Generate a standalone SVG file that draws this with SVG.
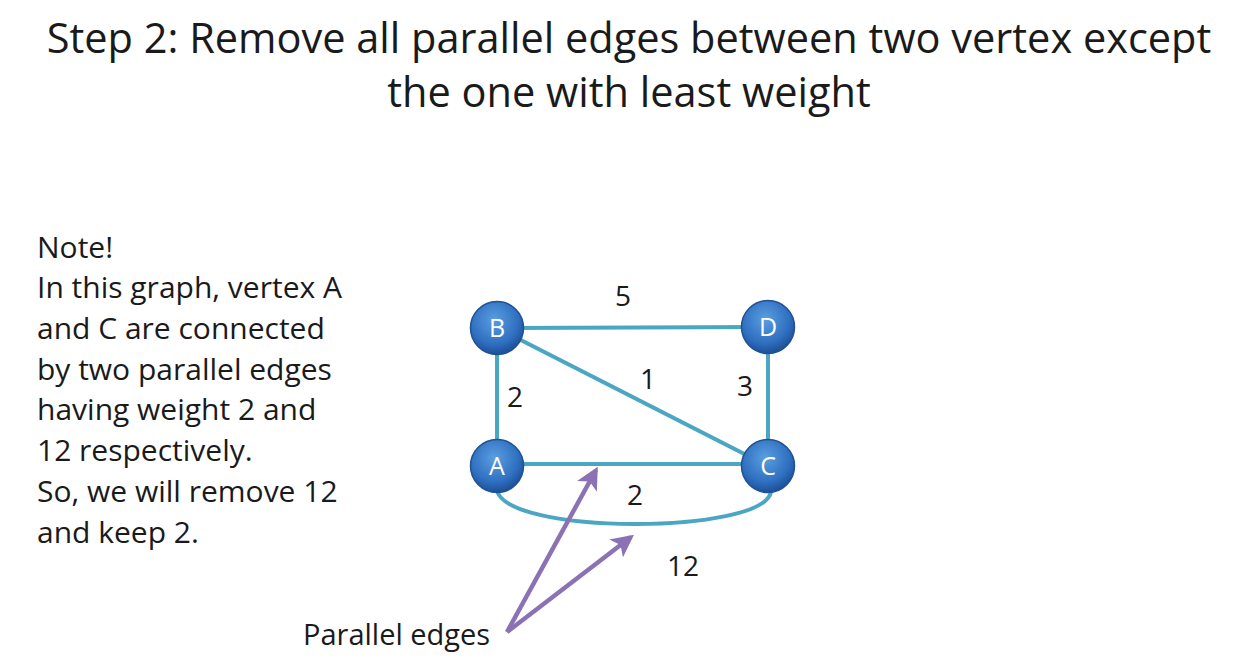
<svg xmlns="http://www.w3.org/2000/svg" width="1256" height="670" viewBox="0 0 1256 670">
<defs>
<radialGradient id="nodeGrad" cx="45%" cy="35%" r="65%">
<stop offset="0" stop-color="#5a9ee0"/>
<stop offset="0.7" stop-color="#2f6fc0"/>
<stop offset="1" stop-color="#1d4f96"/>
</radialGradient>
<marker id="arr" viewBox="0 0 12 12" refX="10" refY="6" markerWidth="5" markerHeight="5" orient="auto" markerUnits="strokeWidth">
<path d="M0,0 L12,6 L0,12 L3,6 Z" fill="#8a72b4"/>
</marker>
<style>
.t{font-family:"Open Sans","Liberation Sans",sans-serif;fill:#1a1a1a}
.title{font-size:41.5px}
.note{font-size:30px}
.w{font-size:28px;text-anchor:middle}
.edge{fill:none;stroke:#4aa6c2;stroke-width:4}
.node circle{fill:url(#nodeGrad);stroke:#1e5294;stroke-width:1.5}
.node text{font-family:"Open Sans","Liberation Sans",sans-serif;font-size:25px;fill:#ffffff;text-anchor:middle}
.ptr{stroke:#8a72b4;stroke-width:4.5;fill:none}
</style>
</defs>
<rect width="1256" height="670" fill="#ffffff"/>
<g id="title">
<text class="t title" x="629" y="53" text-anchor="middle">Step 2: Remove all parallel edges between two vertex except</text>
<text class="t title" x="629" y="107" text-anchor="middle">the one with least weight</text>
</g>
<g id="note">
<text class="t note" x="37" y="258">Note!</text>
<text class="t note" x="37" y="298">In this graph, vertex A</text>
<text class="t note" x="37" y="339">and C are connected</text>
<text class="t note" x="37" y="380">by two parallel edges</text>
<text class="t note" x="37" y="420">having weight 2 and</text>
<text class="t note" x="37" y="461">12 respectively.</text>
<text class="t note" x="37" y="502">So, we will remove 12</text>
<text class="t note" x="37" y="543">and keep 2.</text>
</g>
<g id="connectors">
<line class="edge" x1="497" y1="328" x2="768" y2="327"/>
<line class="edge" x1="497" y1="328" x2="497" y2="466"/>
<line class="edge" x1="768" y1="327" x2="768" y2="466"/>
<line class="edge" x1="497" y1="328" x2="768" y2="466"/>
<line class="edge" x1="497" y1="464" x2="768" y2="464"/>
<path class="edge" d="M497,490 C505,535 762,535 771,492"/>
<line class="ptr" x1="507" y1="632" x2="596" y2="470" marker-end="url(#arr)"/>
<line class="ptr" x1="507" y1="632" x2="631" y2="537" marker-end="url(#arr)"/>
</g>
<g id="labels">
<text class="t w" x="623" y="306">5</text>
<text class="t w" x="515" y="407">2</text>
<text class="t w" x="648" y="389">1</text>
<text class="t w" x="745" y="396">3</text>
<text class="t w" x="635" y="505">2</text>
<text class="t w" x="683" y="576">12</text>
<text class="t note" x="303" y="645" style="font-size:29px">Parallel edges</text>
</g>
<g id="node-B" class="node"><circle cx="497" cy="328" r="26.5"/><text x="497" y="337">B</text></g>
<g id="node-D" class="node"><circle cx="768" cy="327" r="26.5"/><text x="768" y="336">D</text></g>
<g id="node-A" class="node"><circle cx="497" cy="466" r="26.5"/><text x="497" y="475">A</text></g>
<g id="node-C" class="node"><circle cx="768" cy="466" r="26.5"/><text x="768" y="475">C</text></g>
</svg>
